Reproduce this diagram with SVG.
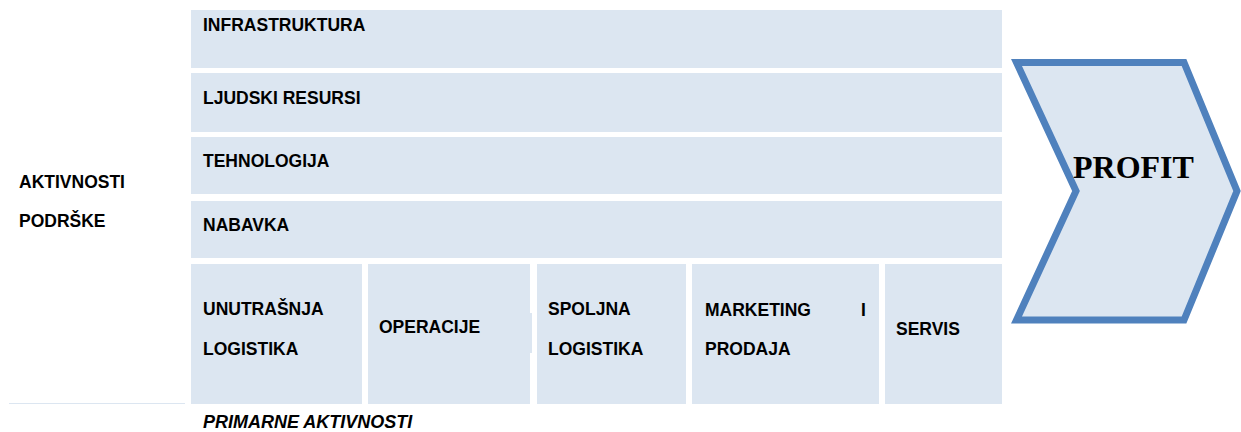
<svg xmlns="http://www.w3.org/2000/svg" width="1241" height="432" viewBox="0 0 1241 432">
<style>
.box{fill:#dce6f1;}
.t{font-family:"Liberation Sans",Arial,sans-serif;font-weight:bold;font-size:17.5px;fill:#000;}
.it{font-style:italic;font-size:18px;}
.pf{font-family:"Liberation Serif","Times New Roman",serif;font-weight:bold;font-size:32px;fill:#000;}
</style>
<rect width="1241" height="432" fill="#fff"/>
<g id="infrastruktura"><rect class="box" x="191" y="10" width="811" height="58"/><text class="t" x="203" y="31">INFRASTRUKTURA</text></g>
<g id="ljudski-resursi"><rect class="box" x="191" y="73" width="811" height="59"/><text class="t" x="203" y="104">LJUDSKI RESURSI</text></g>
<g id="tehnologija"><rect class="box" x="191" y="137" width="811" height="57"/><text class="t" x="203" y="167">TEHNOLOGIJA</text></g>
<g id="nabavka"><rect class="box" x="191" y="201" width="811" height="57"/><text class="t" x="203" y="231">NABAVKA</text></g>
<g id="aktivnosti-podrske"><text class="t" x="19" y="188">AKTIVNOSTI</text><text class="t" x="19" y="227">PODRŠKE</text></g>
<g id="unutrasnja-logistika"><rect class="box" x="191" y="264" width="171" height="140"/><text class="t" x="203" y="315">UNUTRAŠNJA</text><text class="t" x="203" y="355">LOGISTIKA</text></g>
<g id="operacije"><rect class="box" x="368" y="264" width="162" height="140"/><rect class="box" x="529" y="313" width="3" height="40"/><text class="t" x="379" y="333">OPERACIJE</text></g>
<g id="spoljna-logistika"><rect class="box" x="537" y="264" width="149" height="140"/><text class="t" x="548" y="315">SPOLJNA</text><text class="t" x="548" y="355">LOGISTIKA</text></g>
<g id="marketing-prodaja"><rect class="box" x="692" y="264" width="187" height="140"/><text class="t" x="705" y="316">MARKETING</text><text class="t" x="861" y="316">I</text><text class="t" x="705" y="355">PRODAJA</text></g>
<g id="servis"><rect class="box" x="885" y="264" width="117" height="140"/><text class="t" x="896" y="335">SERVIS</text></g>
<g id="primarne"><line x1="9" y1="403.5" x2="185" y2="403.5" stroke="#dce6f1" stroke-width="1.2"/><text class="t it" x="203" y="428">PRIMARNE AKTIVNOSTI</text></g>
<g id="profit"><polygon points="1016.5,62.5 1184,62.5 1237,191 1184,320 1016.5,320 1076,191" fill="#dce6f1" stroke="#4f81bd" stroke-width="7" stroke-linejoin="miter"/><text class="pf" x="1073" y="178">PROFIT</text></g>
<g id="connectors"></g>
</svg>
